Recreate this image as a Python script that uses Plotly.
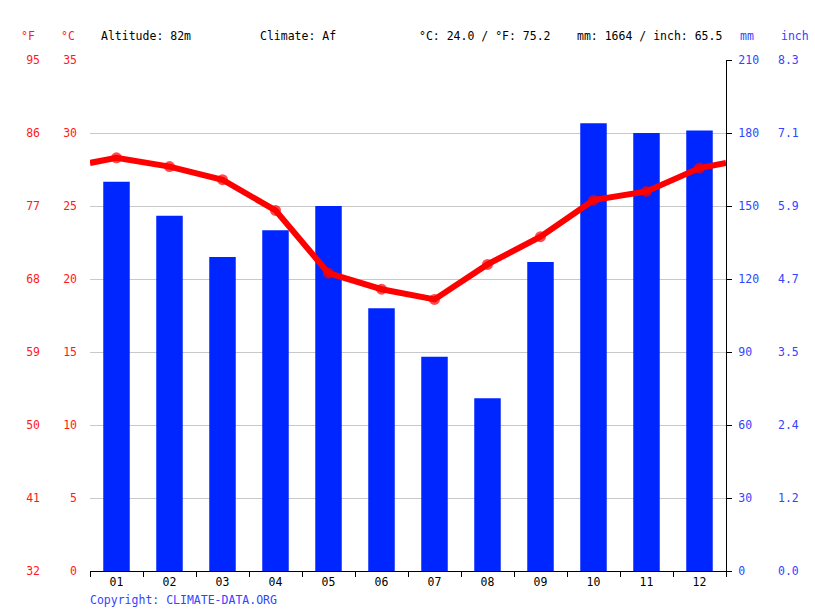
import plotly.graph_objects as go

# climate data, one value per month
months = ["01", "02", "03", "04", "05", "06", "07", "08", "09", "10", "11", "12"]
precip_mm = [160, 146, 129, 140, 150, 108, 88, 71, 127, 184, 180, 181]
temp_c = [28.3, 27.7, 26.8, 24.7, 20.4, 19.3, 18.6, 21.0, 22.9, 25.4, 26.0, 27.6]

temp_ticks_c = [0, 5, 10, 15, 20, 25, 30, 35]
temp_ticks_f = [32, 41, 50, 59, 68, 77, 86, 95]
precip_ticks_mm = [0, 30, 60, 90, 120, 150, 180, 210]
precip_ticks_in = ["0.0", "1.2", "2.4", "3.5", "4.7", "5.9", "7.1", "8.3"]

altitude = "82m"
climate = "Af"
header_temp = "°C: 24.0 / °F: 75.2"
header_precip = "mm: 1664 / inch: 65.5"

FONT = "DejaVu Sans Mono"
RED = "#ff0000"
RED_TXT = "#ff1a1a"
BLUE = "#0026ff"
BLUE_TXT = "#3344ff"
W, H = 815, 611
L, R, T, B = 90, 726, 60, 571

x_idx = list(range(1, 13))
# line wraps around the year: half-way between Dec and Jan on both ends
wrap = (temp_c[0] + temp_c[-1]) / 2
line_x = [0.5] + x_idx + [12.5]
line_y = [wrap] + temp_c + [wrap]
marker_sizes = [0] + [11] * 12 + [0]

fig = go.Figure()

# bars live on the base axis (mm), so the temperature line is drawn on top
fig.add_trace(
    go.Bar(
        x=x_idx,
        y=precip_mm,
        width=0.5,
        marker=dict(color=BLUE, line=dict(width=0)),
        yaxis="y",
        showlegend=False,
    )
)

fig.add_trace(
    go.Scatter(
        x=line_x,
        y=line_y,
        mode="lines+markers",
        line=dict(color=RED, width=6),
        marker=dict(color=RED, size=marker_sizes, line=dict(width=0)),
        yaxis="y2",
        showlegend=False,
    )
)

# empty traces so the °F and inch axes get drawn
fig.add_trace(go.Scatter(x=[None], y=[None], yaxis="y3", showlegend=False))
fig.add_trace(go.Scatter(x=[None], y=[None], yaxis="y4", showlegend=False))

annotations = []


def header(text, x, color, anchor="left"):
    annotations.append(
        dict(
            text=text,
            x=x / W,
            y=(B - 36) / (B - T),
            xref="paper",
            yref="paper",
            xanchor=anchor,
            yanchor="middle",
            showarrow=False,
            font=dict(family=FONT, size=11.5, color=color),
        )
    )


header("°F", 37, RED_TXT, "right")
header("°C", 77, RED_TXT, "right")
header("Altitude: " + altitude, 99, "#000000")
header("Climate: " + climate, 258, "#000000")
header(header_temp, 417, "#000000")
header(header_precip, 575, "#000000")
header("mm", 738, BLUE_TXT)
header("inch", 779, BLUE_TXT)

annotations.append(
    dict(
        text="Copyright: CLIMATE-DATA.ORG",
        x=(L - 2) / W,
        y=(B - 600) / (B - T),
        xref="paper",
        yref="paper",
        xanchor="left",
        yanchor="middle",
        showarrow=False,
        font=dict(family=FONT, size=11.5, color=BLUE_TXT),
    )
)

fig.update_layout(
    width=W,
    height=H,
    margin=dict(l=0, r=0, t=T, b=H - B),
    plot_bgcolor="white",
    paper_bgcolor="white",
    font=dict(family=FONT, size=11.5),
    annotations=annotations,
    xaxis=dict(
        domain=[L / W, R / W],
        range=[0.5, 12.5],
        tickvals=x_idx,
        ticktext=months,
        ticks="",
        showgrid=False,
        zeroline=False,
        showline=True,
        linecolor="black",
        linewidth=1,
        tickfont=dict(color="#000000", size=11.5),
        minor=dict(
            tick0=0.5,
            dtick=1,
            ticks="outside",
            ticklen=5,
            tickcolor="black",
            showgrid=False,
        ),
    ),
    yaxis=dict(
        anchor="x",
        side="right",
        range=[0, 210],
        tickvals=precip_ticks_mm,
        ticks="outside",
        ticklen=5,
        tickcolor="black",
        showgrid=True,
        gridcolor="#c8c8c8",
        gridwidth=1,
        zeroline=False,
        showline=True,
        linecolor="black",
        linewidth=1,
        ticklabelstandoff=4,
        tickfont=dict(color=BLUE_TXT, size=11.5),
    ),
    yaxis2=dict(
        overlaying="y",
        anchor="x",
        side="left",
        range=[0, 35],
        tickvals=temp_ticks_c,
        ticks="",
        showgrid=False,
        zeroline=False,
        showline=False,
        ticklabelstandoff=12,
        tickfont=dict(color=RED_TXT, size=11.5),
    ),
    yaxis3=dict(
        overlaying="y",
        anchor="free",
        side="left",
        position=40 / W,
        range=[32, 95],
        tickvals=temp_ticks_f,
        ticks="",
        showgrid=False,
        zeroline=False,
        showline=False,
        tickfont=dict(color=RED_TXT, size=11.5),
    ),
    yaxis4=dict(
        overlaying="y",
        anchor="free",
        side="right",
        position=777 / W,
        range=[0, 210],
        tickvals=precip_ticks_mm,
        ticktext=precip_ticks_in,
        ticks="",
        showgrid=False,
        zeroline=False,
        showline=False,
        tickfont=dict(color=BLUE_TXT, size=11.5),
    ),
)

# page body has a default 8px margin; drop it so the chart fills the window
fig.write_html(
    "out.html",
    config={"displayModeBar": False},
    post_script="document.body.style.margin='0';",
)
